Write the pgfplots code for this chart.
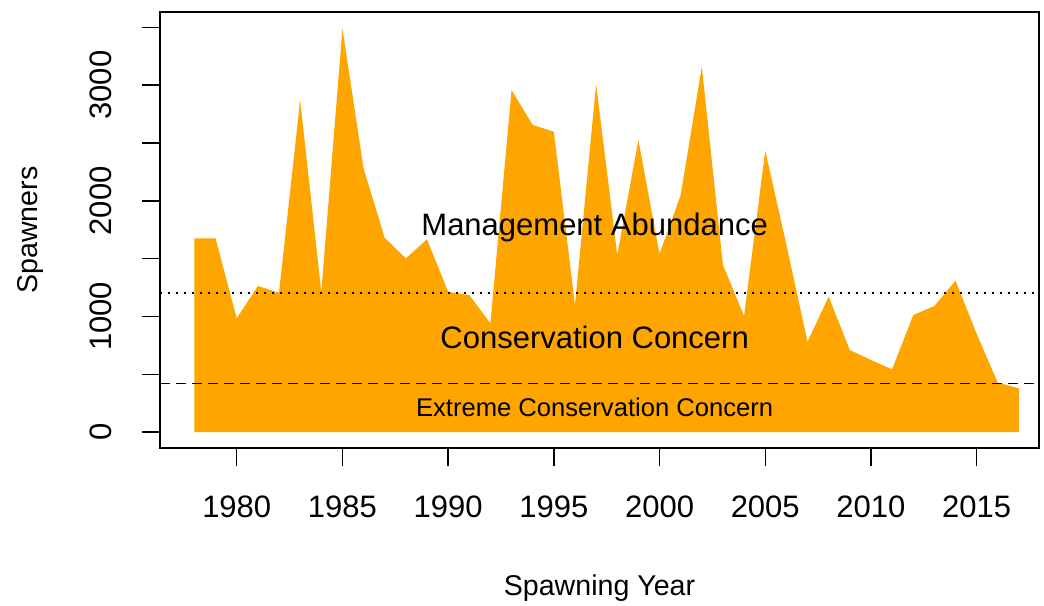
\documentclass[border=0pt]{standalone}
\usepackage{fontspec}
\setmainfont{Liberation Sans}
\usepackage{pgfplots}
\pgfplotsset{compat=1.18}
\definecolor{rorange}{HTML}{FFA500}
\begin{document}
\begin{tikzpicture}
\useasboundingbox (-80pt,-78.5pt) rectangle (442pt,224pt);
\begin{axis}[
  name=ax, anchor=south west, at={(0,0)},
  scale only axis, width=439.5pt, height=218pt,
  xmin=1976.37, xmax=2017.95, ymin=-138, ymax=3633,
  axis line style={line width=0.7pt, black},
  tick style={line width=0.7pt, black},
  tick align=outside, tick pos=left, major tick length=9pt,
  xtick={1980,1985,1990,1995,2000,2005,2010,2015},
  xticklabels={1980,1985,1990,1995,2000,2005,2010,2015},
  ytick={0,500,1000,1500,2000,2500,3000,3500},
  yticklabels={0,,1000,,2000,,3000,},
  xticklabel style={anchor=north, inner sep=0pt, yshift=-14.5pt, font=\fontsize{15.5}{18}\selectfont},
  yticklabel style={xshift=-15pt, rotate=90, anchor=south, inner sep=0pt, font=\fontsize{15.5}{18}\selectfont},
  xlabel={Spawning Year},
  xlabel style={at={(axis description cs:0.5,-0.3211)}, anchor=center, font=\fontsize{14.3}{17}\selectfont},
  ylabel={Spawners},
  ylabel style={at={(axis description cs:-0.1479,0.5)}, anchor=center, font=\fontsize{14.3}{17}\selectfont},
  clip=true,
]
\addplot[fill=rorange, draw=none] coordinates {
(1978,0) (1978,1675) (1979,1675) (1980,983) (1981,1263) (1982,1205)
(1983,2872) (1984,1210) (1985,3490) (1986,2280) (1987,1680) (1988,1502)
(1989,1667) (1990,1214) (1991,1185) (1992,940) (1993,2958) (1994,2656)
(1995,2598) (1996,1099) (1997,3010) (1998,1531) (1999,2526) (2000,1540)
(2001,2050) (2002,3160) (2003,1445) (2004,1003) (2005,2434) (2006,1620)
(2007,781) (2008,1171) (2009,709) (2010,623) (2011,542) (2012,1012)
(2013,1090) (2014,1309) (2015,850) (2016,427) (2017,378) (2017,0)
} \closedcycle;
\addplot[black, line width=0.9pt, dash pattern=on 1.2pt off 2.8pt] coordinates {(1976.37,1200) (2017.95,1200)};
\addplot[black, line width=0.9pt, dash pattern=on 5pt off 3pt] coordinates {(1976.37,420) (2017.95,420)};
\node[anchor=base, inner sep=0pt, font=\fontsize{15.5}{18}\selectfont] at (axis cs:1996.93,1696) {Management Abundance};
\node[anchor=base, inner sep=0pt, font=\fontsize{15.5}{18}\selectfont] at (axis cs:1996.93,724) {Conservation Concern};
\node[anchor=base, inner sep=0pt, font=\fontsize{12.8}{15}\selectfont] at (axis cs:1996.93,138) {Extreme Conservation Concern};
\end{axis}
\end{tikzpicture}
\end{document}
